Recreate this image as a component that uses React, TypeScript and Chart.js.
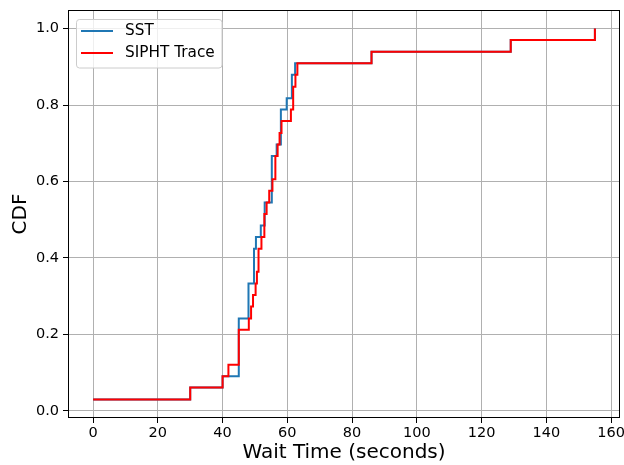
import React, { useEffect, useRef } from "react";
import { Chart, registerables } from "chart.js";

Chart.register(...registerables);

// Wait time (seconds) at each step and the CDF value after the step
const sstTimes = [0, 30, 40, 45, 48, 49.7, 50.3, 51.8, 53.0, 55.2, 56.7, 58, 59.8, 61.4, 62.4, 86, 129, 155];
const sstCdf = [0.030, 0.061, 0.091, 0.242, 0.333, 0.424, 0.455, 0.485, 0.545, 0.667, 0.697, 0.788, 0.818, 0.879, 0.909, 0.939, 0.970, 1.0];

const siphtTimes = [0, 30, 40, 41.8, 45, 48.1, 48.8, 49.4, 50.2, 50.6, 51.1, 52, 52.9, 53.6, 54.4, 55.4, 56.3, 57, 57.6, 58.2, 61.1, 61.8, 62.5, 63.1, 86, 129, 155];
const siphtCdf = [0.030, 0.061, 0.091, 0.121, 0.212, 0.242, 0.273, 0.303, 0.333, 0.364, 0.424, 0.455, 0.515, 0.545, 0.576, 0.606, 0.667, 0.697, 0.727, 0.758, 0.788, 0.848, 0.879, 0.909, 0.939, 0.970, 1.0];

const xTicks = [0, 20, 40, 60, 80, 100, 120, 140, 160];
const yTicks = [0, 0.2, 0.4, 0.6, 0.8, 1.0];
const seriesNames = ["SST", "SIPHT Trace"];
const seriesColors = ["#1f77b4", "#ff0000"];

const FONT = "'DejaVu Sans', sans-serif";

const framePlugin = {
  id: "frameAndLegend",
  afterDraw(chart: any) {
    const ctx = chart.ctx;
    const a = chart.chartArea;
    ctx.save();
    ctx.strokeStyle = "#000";
    ctx.lineWidth = 1;
    ctx.strokeRect(a.left + 0.5, a.top + 0.5, a.right - a.left - 1, a.bottom - a.top - 1);

    // legend
    const bx = 76.5, by = 19.5, bw = 145.5, bh = 48.5, r = 3;
    ctx.beginPath();
    ctx.moveTo(bx + r, by);
    ctx.lineTo(bx + bw - r, by);
    ctx.arcTo(bx + bw, by, bx + bw, by + r, r);
    ctx.lineTo(bx + bw, by + bh - r);
    ctx.arcTo(bx + bw, by + bh, bx + bw - r, by + bh, r);
    ctx.lineTo(bx + r, by + bh);
    ctx.arcTo(bx, by + bh, bx, by + bh - r, r);
    ctx.lineTo(bx, by + r);
    ctx.arcTo(bx, by, bx + r, by, r);
    ctx.closePath();
    ctx.fillStyle = "rgba(255,255,255,0.8)";
    ctx.fill();
    ctx.strokeStyle = "#cccccc";
    ctx.stroke();

    const rows = [31, 53];
    ctx.font = `15.3px ${FONT}`;
    ctx.textBaseline = "middle";
    ctx.textAlign = "left";
    rows.forEach((y, i) => {
      ctx.beginPath();
      ctx.strokeStyle = seriesColors[i];
      ctx.lineWidth = 2;
      ctx.moveTo(81, y);
      ctx.lineTo(113, y);
      ctx.stroke();
      ctx.fillStyle = "#000";
      ctx.fillText(seriesNames[i], 125, y);
    });
    ctx.restore();
  },
};

const zeroPad = (s: any) => {
  s.paddingTop = 0;
  s.paddingBottom = 0;
  s.paddingLeft = 0;
  s.paddingRight = 0;
};

export default function App() {
  const ref = useRef<HTMLCanvasElement | null>(null);

  useEffect(() => {
    document.body.style.margin = "0";
    const canvas = ref.current;
    if (!canvas) return;
    const chart = new Chart(canvas, {
      type: "line",
      data: {
        datasets: [
          {
            label: seriesNames[0],
            data: sstTimes.map((x, i) => ({ x, y: sstCdf[i] })),
            borderColor: seriesColors[0],
            backgroundColor: seriesColors[0],
            borderWidth: 2,
            pointRadius: 0,
            stepped: "before",
            fill: false,
            order: 2,
          },
          {
            label: seriesNames[1],
            data: siphtTimes.map((x, i) => ({ x, y: siphtCdf[i] })),
            borderColor: seriesColors[1],
            backgroundColor: seriesColors[1],
            borderWidth: 2,
            pointRadius: 0,
            stepped: "before",
            fill: false,
            order: 1,
          },
        ],
      },
      options: {
        responsive: false,
        animation: false,
        events: [],
        layout: { padding: { top: 10, right: 4, left: 0, bottom: 0 } },
        plugins: {
          legend: { display: false },
          tooltip: { enabled: false },
        },
        scales: {
          x: {
            type: "linear",
            min: -7.75,
            max: 162.75,
            afterBuildTicks: (s: any) => {
              s.ticks = xTicks.map((v) => ({ value: v }));
            },
            afterFit: (s: any) => {
              s.height = 47;
              zeroPad(s);
            },
            grid: {
              color: "#b0b0b0",
              lineWidth: 1,
              drawTicks: true,
              tickLength: 5,
              tickColor: "#000",
            },
            border: { display: false },
            ticks: {
              font: { family: FONT, size: 14.5 },
              color: "#000",
              padding: 2,
              maxRotation: 0,
              autoSkip: false,
              callback: (v: any) => String(v),
            },
            title: {
              display: true,
              text: "Wait Time (seconds)",
              font: { family: FONT, size: 20 },
              color: "#000",
              padding: { top: 0, bottom: 0 },
            },
          },
          y: {
            type: "linear",
            min: -0.0185,
            max: 1.0485,
            afterBuildTicks: (s: any) => {
              s.ticks = yTicks.map((v) => ({ value: v }));
            },
            afterFit: (s: any) => {
              s.width = 68;
              zeroPad(s);
            },
            grid: {
              color: "#b0b0b0",
              lineWidth: 1,
              drawTicks: true,
              tickLength: 5,
              tickColor: "#000",
            },
            border: { display: false },
            ticks: {
              font: { family: FONT, size: 14.5 },
              color: "#000",
              padding: 4,
              autoSkip: false,
              callback: (v: any) => Number(v).toFixed(1),
            },
            title: {
              display: true,
              text: "CDF",
              font: { family: FONT, size: 20 },
              color: "#000",
              padding: { top: 9, bottom: 0 },
            },
          },
        },
      },
      plugins: [framePlugin],
    } as any);
    return () => chart.destroy();
  }, []);

  return (
    <div style={{ width: 624, height: 465 }}>
      <canvas ref={ref} width={624} height={465} style={{ display: "block" }} />
    </div>
  );
}
